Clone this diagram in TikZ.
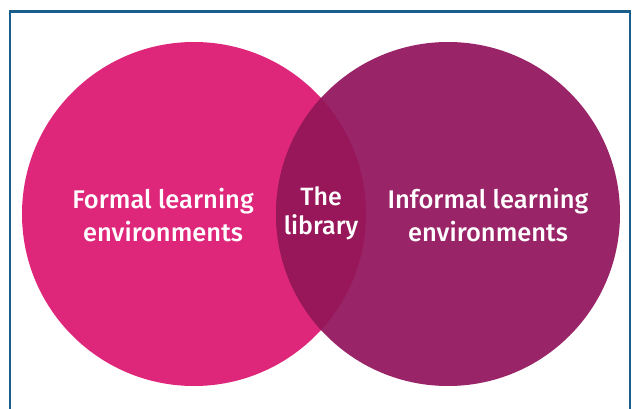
\documentclass[tikz,border=0pt]{standalone}
\usepackage{fontspec}
\setmainfont{Fira Sans}[BoldFont={Fira Sans Medium}]
\usetikzlibrary{positioning}

\definecolor{framecol}{HTML}{1A5E8C}
\definecolor{formalcol}{HTML}{DE277B}
\definecolor{informalcol}{HTML}{9A2468}
\definecolor{overlapcol}{HTML}{98175A}

\begin{document}
\begin{tikzpicture}[
		x=1pt, y=-1pt,
		label/.style={text=white, align=center, font=\bfseries\fontsize{25.5}{33}\selectfont},
	]
		\useasboundingbox (0,0) rectangle (637,409);
		\draw[framecol, line width=2.6pt] (10,420) |- (630,11.5) -- (630,420);
		% the two sets and their overlap
		\fill[formalcol] (194,214) circle (172);
		\fill[informalcol] (448,214) circle (172);
		\begin{scope}
			\clip (194,214) circle (172);
			\fill[overlapcol] (448,214) circle (172);
		\end{scope}
		\node (formal) [label] at (163,215) {Formal learning\\environments};
		\node (lib) [label, font=\bfseries\fontsize{25}{29}\selectfont] at (321,213) {The\\library};
		\node (informal) [label] at (488,215) {Informal learning\\environments};
	\end{tikzpicture}
\end{document}
